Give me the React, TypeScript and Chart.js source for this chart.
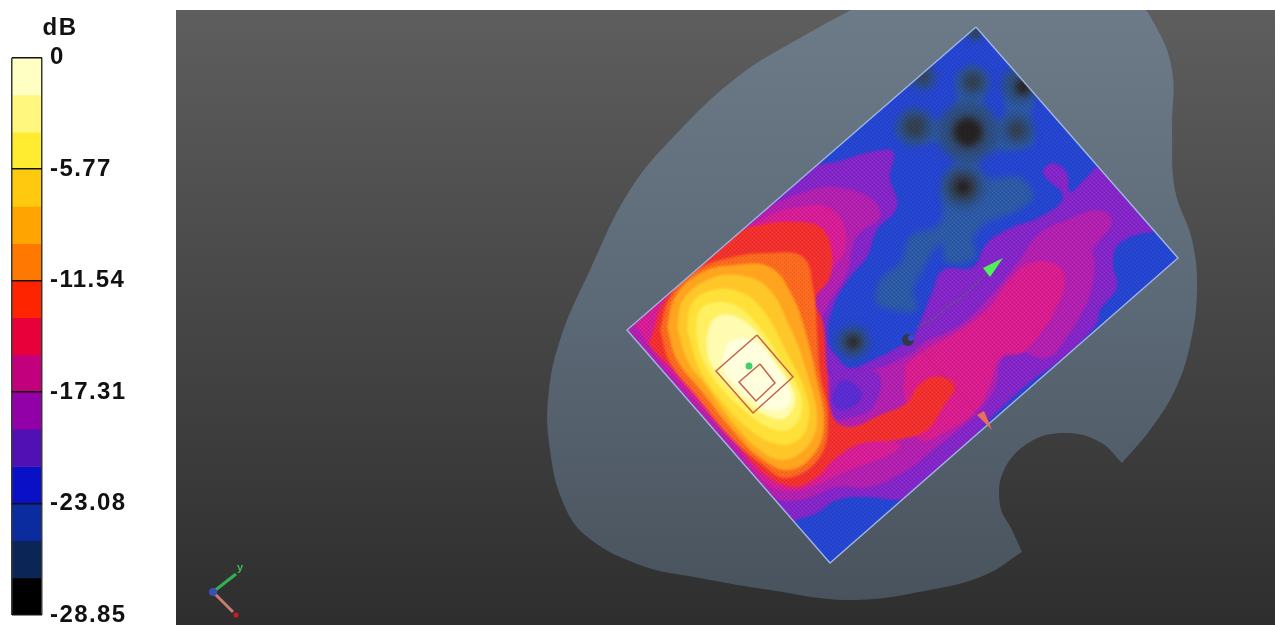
import React, { useEffect, useRef } from "react";
import { Chart, registerables } from "chart.js";

type P = [number, number];
type B = [number, number, number];

// ---------- colour-bar data ----------
const barCategories = ["dB"];
const bandEdges = [0, -1.92, -3.85, -5.77, -7.69, -9.62, -11.54, -13.46, -15.39, -17.31, -19.23, -21.16, -23.08, -25.0, -26.93, -28.85];
const bandColors = ["#FFFFC4", "#FFF77E", "#FFEB30", "#FFC90F", "#FFA400", "#FF7800", "#FF2400", "#E8003A", "#C2007E", "#9200A8", "#5010B4", "#0A10C6", "#0A2C9E", "#0A2556", "#000000"];
const tickValues = [0, -5.77, -11.54, -17.31, -23.08, -28.85];

// ---------- scan picture data (outline points on the picture's plane) ----------
const headOutline: P[] = [[862, 4], [800, 38], [740, 75], [680, 130], [630, 190], [590, 270], [560, 340], [548, 400], [550, 450], [562, 500], [585, 535], [640, 565], [700, 578], [770, 590], [850, 600], [930, 590], [985, 575], [1022, 552], [1022, 552], [1012, 530], [1000, 505], [1004, 470], [1030, 442], [1065, 433], [1100, 442], [1122, 463], [1122, 463], [1150, 430], [1175, 390], [1190, 345], [1197, 290], [1192, 240], [1175, 190], [1172, 130], [1172, 70], [1155, 25], [1135, 4], [1000, 4]];
const scanCorners: P[] = [[976, 27], [1178, 258], [830, 563], [627, 330]];
const steelZone: P[] = [[900, 123], [913, 110], [933, 120], [950, 117], [957, 97], [957, 77], [973, 67], [988, 80], [983, 103], [990, 117], [1003, 120], [1007, 80], [1020, 73], [1033, 93], [1030, 123], [1033, 143], [1013, 150], [980, 153], [987, 177], [1020, 177], [1033, 197], [1013, 213], [987, 223], [973, 240], [977, 257], [947, 263], [940, 243], [923, 270], [913, 290], [917, 310], [893, 310], [877, 303], [880, 280], [900, 263], [910, 237], [940, 223], [943, 183], [957, 157], [943, 143], [917, 143], [900, 137]];
const dimSpots: B[] = [[968, 132, 30], [963, 187, 21], [915, 127, 18], [973, 82, 15], [1020, 85, 18], [1017, 130, 16], [923, 77, 13], [853, 342, 16], [975, 32, 8]];
const darkSpots: B[] = [[968, 132, 17], [963, 187, 14], [1023, 87, 9], [923, 77, 5], [853, 342, 9], [915, 127, 10], [973, 82, 8], [1017, 130, 8], [975, 33, 5]];
const blackSpots: B[] = [[968, 132, 13], [963, 187, 7], [1023, 87, 6], [853, 342, 4]];
const purpleZone: P[] = [[600, 330], [700, 230], [795, 172], [843, 160], [870, 152], [893, 152], [890, 177], [897, 207], [877, 230], [867, 257], [850, 277], [833, 307], [828, 340], [837, 357], [850, 368], [873, 360], [893, 350], [912, 338], [917, 330], [933, 290], [943, 270], [973, 267], [987, 243], [1013, 227], [1040, 217], [1063, 197], [1043, 173], [1053, 163], [1067, 173], [1070, 192], [1087, 177], [1100, 167], [1150, 190], [1185, 235], [1153, 232], [1120, 243], [1113, 263], [1117, 287], [1100, 310], [1097, 323], [1073, 350], [1057, 363], [1033, 380], [1010, 400], [983, 427], [960, 460], [910, 497], [897, 500], [867, 497], [837, 500], [817, 513], [797, 520], [780, 530], [700, 440], [620, 345]];
const magentaZone: P[] = [[620, 310], [700, 240], [755, 213], [810, 190], [843, 188], [873, 200], [880, 217], [860, 233], [853, 245], [847, 273], [827, 307], [818, 335], [825, 372], [860, 372], [880, 368], [913, 352], [923, 343], [960, 325], [993, 293], [1017, 263], [1040, 233], [1067, 220], [1100, 210], [1112, 223], [1093, 250], [1095, 263], [1093, 283], [1087, 303], [1067, 337], [1047, 358], [1013, 350], [1000, 363], [997, 383], [983, 407], [967, 423], [937, 447], [907, 470], [870, 487], [837, 487], [800, 500], [770, 495], [700, 420], [620, 330]];
const violetRing: P[] = [[830, 373], [860, 370], [880, 377], [873, 407], [853, 417], [833, 417]];
const indigoSpot: P[] = [[833, 393], [843, 380], [860, 390], [860, 400], [843, 410], [833, 403]];
const pinkUpper: P[] = [[635, 325], [700, 260], [770, 215], [800, 207], [827, 207], [843, 223], [845, 250], [832, 270], [810, 310], [810, 400], [825, 430], [900, 445], [850, 470], [780, 490], [730, 440], [660, 360]];
const pinkLower: P[] = [[905, 365], [930, 347], [960, 330], [987, 310], [1007, 283], [1030, 263], [1057, 265], [1065, 283], [1055, 310], [1043, 330], [1023, 352], [1000, 358], [990, 385], [975, 412], [945, 432], [920, 440], [905, 400]];
const redZone: P[] = [[653, 333], [663, 303], [687, 277], [720, 240], [760, 225], [800, 222], [820, 227], [830, 243], [830, 277], [815, 300], [823, 323], [827, 370], [833, 417], [850, 427], [880, 415], [907, 403], [917, 387], [933, 377], [950, 380], [955, 388], [943, 407], [927, 430], [897, 440], [863, 443], [837, 457], [817, 477], [793, 487], [760, 470], [720, 420], [680, 375], [650, 345]];
const emberZone: P[] = [[660, 330], [670, 297], [697, 270], [733, 257], [770, 253], [803, 257], [813, 287], [817, 330], [820, 373], [828, 417], [820, 457], [787, 478], [760, 463], [730, 437], [697, 397], [670, 363]];
const orangeZone: P[] = [[667, 327], [675, 297], [700, 273], [733, 265], [770, 267], [793, 297], [807, 337], [817, 380], [824, 423], [815, 453], [790, 470], [763, 460], [735, 433], [703, 393], [677, 360]];
const amberZone: P[] = [[677, 327], [683, 300], [707, 280], [737, 275], [767, 287], [790, 327], [807, 373], [817, 420], [807, 447], [783, 460], [760, 450], [733, 423], [707, 387], [687, 360]];
const goldZone: P[] = [[687, 330], [692, 303], [713, 290], [740, 292], [763, 310], [787, 353], [807, 397], [807, 427], [793, 443], [773, 443], [750, 430], [723, 403], [700, 370]];
const yellowZone: P[] = [[696, 333], [700, 310], [718, 302], [740, 308], [760, 328], [783, 363], [800, 393], [800, 417], [787, 430], [768, 427], [747, 413], [720, 387], [702, 358]];
const paleZone: P[] = [[706, 340], [713, 320], [730, 315], [753, 328], [773, 357], [792, 387], [795, 403], [785, 418], [770, 417], [750, 405], [727, 385], [710, 362]];
const peakZone: P[] = [[727, 343], [743, 338], [760, 345], [777, 367], [790, 390], [787, 407], [770, 410], [753, 400], [737, 387], [723, 367]];
const outerSquare: P[] = [[757, 335], [793, 377], [753, 413], [716, 371]];
const innerSquare: P[] = [[760, 364], [775, 383], [756, 401], [739, 382]];
const peakMark: B[] = [[749, 366, 3.5]];
const greenCone: P[] = [[1003, 258], [983, 268], [990, 277]];
const redCone: P[] = [[977, 415], [984, 411], [992, 430]];
const traceGray: P[] = [[917, 327], [935, 318], [947, 307], [962, 297], [977, 283], [987, 273]];
const traceRed: P[] = [[913, 340], [977, 413]];
const probeDark: B[] = [[908, 340, 6]];
const probeBlue: B[] = [[911, 338, 3]];
const triadY: P[] = [[213, 592], [236, 574]];
const triadX: P[] = [[213, 592], [233, 612]];
const triadO: B[] = [[213, 592, 4]];
const triadR: B[] = [[236, 615, 2.5]];
const triadLabels: { text: string; at: P; color: string }[] = [{ text: "y", at: [240, 568], color: "#3fbf4f" }];

const XMIN = 176, XMAX = 1275, YMIN = 10, YMAX = 625;

const scanClip = {
  id: "scanClip",
  beforeDatasetDraw(chart: any, args: any) {
    const ds = chart.data.datasets[args.index];
    if (!ds.scanClip && !ds.soft) return;
    const { x, y } = chart.scales;
    const ctx = chart.ctx;
    ctx.save();
    if (ds.scanClip) {
      ctx.beginPath();
      scanCorners.forEach((c, i) => {
        const px = x.getPixelForValue(c[0]), py = y.getPixelForValue(c[1]);
        if (i === 0) ctx.moveTo(px, py); else ctx.lineTo(px, py);
      });
      ctx.closePath();
      ctx.clip();
    }
    if (ds.soft) ctx.filter = `blur(${ds.soft}px)`;
  },
  afterDatasetDraw(chart: any, args: any) {
    const ds = chart.data.datasets[args.index];
    if (ds.scanClip || ds.soft) chart.ctx.restore();
  },
};
Chart.register(scanClip, ...registerables);

const triadText = {
  id: "triadText",
  afterDatasetsDraw(chart: any) {
    const { x, y } = chart.scales;
    const ctx = chart.ctx;
    ctx.save();
    ctx.font = "bold 11px 'Liberation Sans'";
    ctx.textAlign = "center";
    ctx.textBaseline = "middle";
    triadLabels.forEach((l) => {
      ctx.fillStyle = l.color;
      ctx.fillText(l.text, x.getPixelForValue(l.at[0]), y.getPixelForValue(l.at[1]));
    });
    ctx.restore();
  },
};

const spaced = {
  id: "spaced",
  beforeDraw(chart: any) {
    chart.ctx.letterSpacing = "1.4px";
  },
};

const pts = (a: P[], close = true) => {
  const out = a.map((p) => ({ x: p[0], y: p[1] }));
  if (close) out.push({ ...out[0] });
  return out;
};

export default function App() {
  const mainRef = useRef<HTMLCanvasElement>(null);
  const barRef = useRef<HTMLCanvasElement>(null);

  useEffect(() => {
    document.body.style.margin = "0";
    document.body.style.background = "#fff";
    const ctx = mainRef.current!.getContext("2d")!;
    const headFill = ctx.createLinearGradient(0, 0, 0, 615);
    headFill.addColorStop(0, "#6d7b89");
    headFill.addColorStop(0.5, "#5b6875");
    headFill.addColorStop(1, "#47515b");

    const tile = document.createElement("canvas");
    tile.width = 4;
    tile.height = 4;
    const t = tile.getContext("2d")!;
    t.fillStyle = "rgba(30,40,90,0.2)";
    t.fillRect(0, 0, 1, 1);
    t.fillRect(2, 2, 1, 1);
    t.fillStyle = "rgba(255,255,255,0.05)";
    t.fillRect(2, 0, 1, 1);
    t.fillRect(0, 2, 1, 1);
    const mesh = ctx.createPattern(tile, "repeat")!;

    const area = (data: P[], color: any, clip = true, tension = 0.4, soft = 1.2) => ({
      type: "scatter",
      data: pts(data),
      showLine: true,
      fill: "shape",
      backgroundColor: color,
      borderWidth: 0,
      pointRadius: 0,
      tension,
      scanClip: clip,
      soft,
    });
    const spots = (data: B[], color: string, clip = true, soft = 0) => ({
      type: "bubble",
      data: data.map((b) => ({ x: b[0], y: b[1], r: b[2] })),
      backgroundColor: color,
      borderWidth: 0,
      scanClip: clip,
      soft,
    });
    const stroke = (data: P[], color: string, width: number, closed = true, dash: number[] = []) => ({
      type: "scatter",
      data: pts(data, closed),
      showLine: true,
      fill: false,
      borderColor: color,
      borderWidth: width,
      borderDash: dash,
      pointRadius: 0,
      tension: 0,
    });

    const layers: any[] = [
      area(headOutline, headFill, false, 0.4, 0.6),
      area(scanCorners, "#2444d2", false, 0, 0),
      area(steelZone, "#2c5aa6", true, 0.4, 3),
      spots(dimSpots, "#2c4d7e", true, 4),
      spots(darkSpots, "#323e4e", true, 3),
      spots(blackSpots, "#241f1e", true, 3),
      area(purpleZone, "#8524c8"),
      area(magentaZone, "#b41fb0"),
      area(violetRing, "#8524c8"),
      area(indigoSpot, "#5a2ad2"),
      area(pinkUpper, "#d91c96"),
      area(pinkLower, "#dc1c8e"),
      area(redZone, "#f5302c"),
      area(emberZone, "#ff6a1c"),
      area(scanCorners, mesh, false, 0, 0),
      area(orangeZone, "#ffa41e"),
      area(amberZone, "#ffc62a"),
      area(goldZone, "#ffe038"),
      area(yellowZone, "#fff062"),
      area(paleZone, "#fffbb0"),
      area(peakZone, "#ffffde"),
      stroke(scanCorners, "#9fb6e2", 1.4),
      stroke(outerSquare, "#c8604e", 1.5),
      stroke(innerSquare, "#c8604e", 1.5),
      spots(peakMark, "#3fd069", false),
      stroke(traceGray, "#5b6070", 1.5, false, [2, 2]),
      stroke(traceRed, "rgba(190,30,90,0.45)", 1, false),
      spots(probeDark, "#2f3a48", false),
      spots(probeBlue, "#3a49d8", false),
      area(greenCone, "#4ff05a", false, 0, 0),
      area(redCone, "#ea7058", false, 0, 0),
      stroke(triadY, "#35b050", 3, false),
      stroke(triadX, "#c87a70", 3, false),
      spots(triadO, "#3a50b8", false),
      spots(triadR, "#d01a20", false),
    ];
    layers.forEach((l, i) => (l.order = -i));

    const main = new Chart(mainRef.current!, {
      type: "scatter",
      data: { datasets: layers },
      plugins: [triadText],
      options: {
        animation: false,
        responsive: false,
        events: [],
        layout: { padding: 0, autoPadding: false },
        plugins: { legend: { display: false }, tooltip: { enabled: false }, title: { display: false } },
        scales: {
          x: { type: "linear", min: XMIN, max: XMAX, display: false },
          y: { type: "linear", min: YMIN, max: YMAX, reverse: true, display: false },
        },
      },
    } as any);

    const bar = new Chart(barRef.current!, {
      type: "bar",
      data: {
        labels: barCategories,
        datasets: bandColors.map((c, i) => ({
          data: [[bandEdges[i + 1], bandEdges[i]]],
          backgroundColor: c,
          borderWidth: 0,
          grouped: false,
          barPercentage: 1,
          categoryPercentage: 1,
          yAxisID: "y",
        })),
      } as any,
      plugins: [spaced],
      options: {
        animation: false,
        responsive: false,
        events: [],
        layout: { padding: { left: 0, right: 0, top: 0, bottom: 45 }, autoPadding: false },
        plugins: {
          legend: { display: false },
          tooltip: { enabled: false },
          title: {
            display: true,
            text: "dB",
            color: "#111",
            font: { family: "'Liberation Sans'", size: 24, weight: "bold" },
            padding: { top: 14, bottom: 15 },
          },
        },
        scales: {
          x: {
            type: "category",
            offset: true,
            ticks: { display: false },
            border: { display: false },
            grid: { offset: true, z: 1, color: "#3a3a34", lineWidth: 1.5, drawTicks: false },
          },
          gutter: {
            type: "linear",
            position: "left",
            min: -28.85,
            max: 0,
            ticks: { display: false },
            border: { display: false },
            grid: { display: false, drawTicks: false },
            afterFit: (s: any) => {
              s.width = 22;
            },
          },
          y: {
            type: "linear",
            position: "right",
            min: -28.85,
            max: 0,
            border: { display: false },
            afterBuildTicks: (s: any) => {
              s.ticks = tickValues.map((v) => ({ value: v }));
            },
            afterFit: (s: any) => {
              s.width = 88;
            },
            grid: { z: 1, color: "#111", lineWidth: 1.5, drawTicks: false },
            ticks: {
              autoSkip: false,
              padding: 8,
              color: "#111",
              font: { family: "'Liberation Sans'", size: 24, weight: "bold" },
              callback: (v: any) => (v === 0 ? "0" : Number(v).toFixed(2)),
            },
          },
        },
      },
    } as any);

    return () => {
      main.destroy();
      bar.destroy();
    };
  }, []);

  return (
    <div style={{ position: "fixed", left: 0, top: 0, width: 1275, height: 625, overflow: "hidden", background: "#fff" }}>
      <canvas ref={barRef} width={140} height={660} style={{ position: "absolute", left: -10, top: 0, width: 140, height: 660 }} />
      <canvas
        ref={mainRef}
        width={1099}
        height={615}
        style={{ position: "absolute", left: 176, top: 10, width: 1099, height: 615, background: "linear-gradient(#5e5e5e, #2e2e2e)" }}
      />
    </div>
  );
}
